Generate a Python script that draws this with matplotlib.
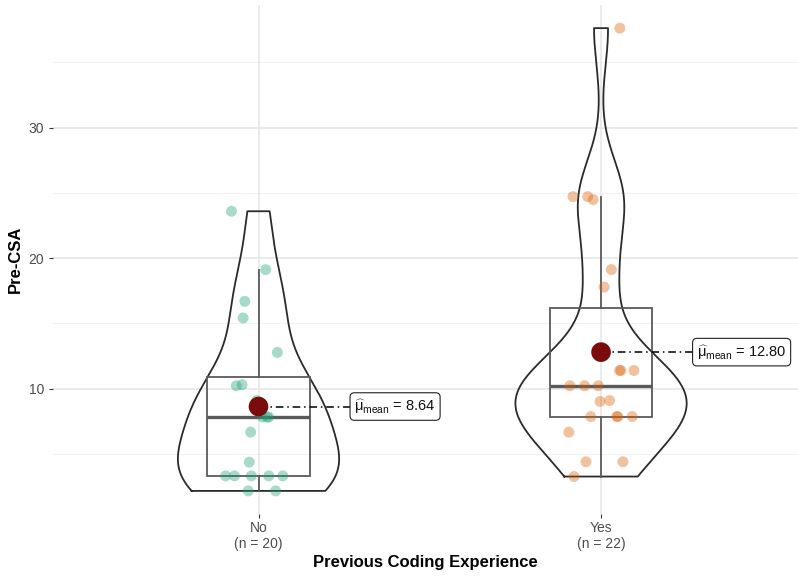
import numpy as np
import matplotlib
matplotlib.use("Agg")
import matplotlib.pyplot as plt

plt.rcParams['font.family'] = ['Liberation Sans', 'DejaVu Sans']
plt.rcParams['mathtext.fontset'] = 'custom'
plt.rcParams['mathtext.rm'] = 'Liberation Sans'
plt.rcParams['mathtext.it'] = 'Liberation Sans'

groups = ["No", "Yes"]
group_n = [20, 22]
colors = ["#1B9E77", "#D95F02"]

# Pre-CSA scores per group
no_vals = [23.59, 19.12, 16.69, 15.42, 12.78, 10.23, 10.31, 9.10, 7.83, 7.83, 7.83,
           6.68, 4.38, 3.33, 3.33, 3.33, 3.33, 3.33, 2.18, 2.18]
yes_vals = [37.61, 24.71, 24.71, 24.48, 19.12, 17.79, 11.40, 11.40, 11.40, 10.23, 10.23,
            10.23, 9.03, 9.10, 7.87, 7.87, 7.87, 7.87, 6.68, 4.41, 4.41, 3.28]
# horizontal jitter of the points
no_jit = [-0.079, 0.021, -0.040, -0.045, 0.055, -0.065, -0.048, -0.005, 0.025, 0.030, 0.012,
          -0.023, -0.027, -0.096, -0.070, -0.021, 0.030, 0.071, -0.030, 0.050]
yes_jit = [0.055, -0.082, -0.039, -0.023, 0.030, 0.009, 0.054, 0.058, 0.096, -0.091, -0.048,
           -0.008, -0.003, 0.025, -0.030, 0.046, 0.049, 0.091, -0.094, -0.044, 0.064, -0.079]

data = [np.array(no_vals), np.array(yes_vals)]
jitter = [np.array(no_jit), np.array(yes_jit)]


def bw_nrd0(x):
    sd = np.std(x, ddof=1)
    iqr = np.percentile(x, 75) - np.percentile(x, 25)
    lo = min(sd, iqr / 1.34)
    return 0.9 * lo * len(x) ** (-0.2)


def kde(x, grid):
    bw = bw_nrd0(x)
    z = (grid[:, None] - x[None, :]) / bw
    return np.exp(-0.5 * z ** 2).sum(axis=1) / (len(x) * bw * np.sqrt(2 * np.pi))


fig = plt.figure(figsize=(7.98, 5.76), dpi=100)
ax = fig.add_axes([0.0664, 0.1076, 0.9336, 0.8837])

# grid
for v in [5, 15, 25, 35]:
    ax.axhline(v, color="#F2F2F2", lw=0.8, zorder=0)
for v in [10, 20, 30]:
    ax.axhline(v, color="#E5E5E5", lw=1.1, zorder=0)
for xpos in [1, 2]:
    ax.axvline(xpos, color="#E5E5E5", lw=1.1, zorder=0)

# violins (area scaled, width 0.5)
grids, dens = [], []
for x in data:
    g = np.linspace(x.min(), x.max(), 512)
    grids.append(g)
    dens.append(kde(x, g))
dmax = max(d.max() for d in dens)
for i, (g, d) in enumerate(zip(grids, dens)):
    hw = 0.25 * d / dmax
    xs = np.concatenate([i + 1 - hw, (i + 1 + hw)[::-1], [i + 1 - hw[0]]])
    ys = np.concatenate([g, g[::-1], [g[0]]])
    ax.plot(xs, ys, color="#2B2B2B", lw=1.3, zorder=2)

# boxplots
bp = ax.boxplot(data, positions=[1, 2], widths=0.3, showfliers=False, patch_artist=True,
                whis=1.5, manage_ticks=False)
for b in bp['boxes']:
    b.set(facecolor="none", edgecolor="#5A5A5A", lw=1.3)
for w in bp['whiskers']:
    w.set(color="#5A5A5A", lw=1.3)
for c in bp['caps']:
    c.set(visible=False)
for m in bp['medians']:
    m.set(color="#5A5A5A", lw=2.4)
for k in ['boxes', 'whiskers', 'medians']:
    for a in bp[k]:
        a.set_zorder(3)

# jittered points
for i in range(2):
    ax.scatter(i + 1 + jitter[i], data[i], s=62, color=colors[i], alpha=0.38,
               edgecolors="none", zorder=4)

# means with labels
for i in range(2):
    mu = data[i].mean()
    ax.scatter([i + 1], [mu], s=200, color="#7A0C0C", edgecolors="none", zorder=6)
    lx = i + 1 + 0.28
    ax.plot([i + 1, lx], [mu, mu], color="black", lw=1.1, ls=(0, (5, 2.5, 1, 2.5)), zorder=5)
    ax.text(lx, mu, r"$\widehat{\mathrm{\mu}}_{\mathrm{mean}}$ = " + f"{mu:.2f}", fontsize=10.5,
            va="center", ha="left", color="#111111", zorder=7,
            bbox=dict(boxstyle="round,pad=0.3,rounding_size=0.3", fc="white", ec="#222222", lw=0.8))

ax.set_xlim(0.4, 2.575)
ax.set_ylim(0.41, 39.38)
ax.set_yticks([10, 20, 30])
ax.set_xticks([1, 2])
ax.set_xticklabels([f"{g}\n(n = {n})" for g, n in zip(groups, group_n)])
ax.tick_params(axis="both", length=3, color="#333333", labelcolor="#4D4D4D", labelsize=10)
ax.tick_params(axis="x", pad=2)
for s in ax.spines.values():
    s.set_visible(False)
ax.set_ylabel("Pre-CSA", fontsize=12, fontweight="bold", labelpad=4)
ax.set_xlabel("Previous Coding Experience", fontsize=12, fontweight="bold", labelpad=3)

fig.savefig("out.png", dpi=100)
